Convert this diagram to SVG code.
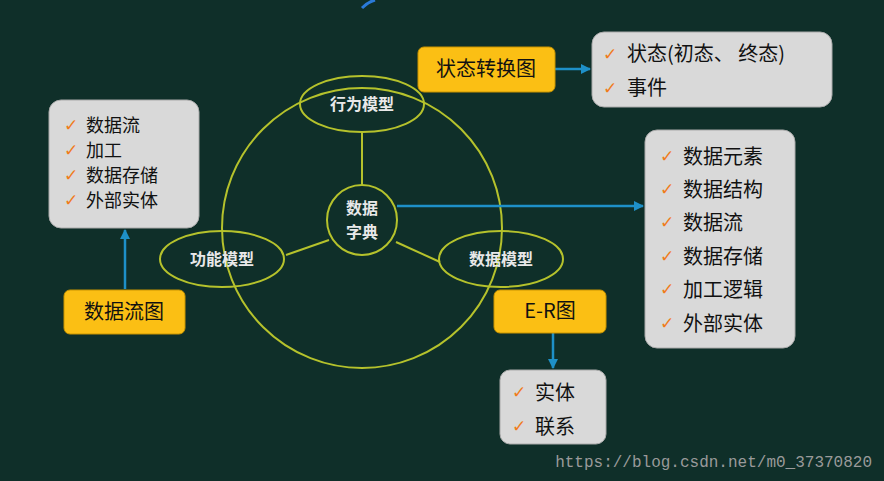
<svg xmlns="http://www.w3.org/2000/svg" width="884" height="481" viewBox="0 0 884 481">
<defs>
<style>
.gray{fill:#d9d9d9;stroke:#aaa;stroke-width:1}
.yel{fill:#fbbf14;stroke:#c99400;stroke-width:1}
.t{font-family:"Noto Sans CJK SC","Liberation Sans",sans-serif;font-size:20px;fill:#111}
.s{font-size:18px}
.ck{font-family:"DejaVu Sans",sans-serif;font-size:17px;font-weight:bold;fill:#f07c1c}
.g{fill:none;stroke:#b5c22c;stroke-width:2}
.w{font-family:"Noto Sans CJK SC",sans-serif;font-size:16px;font-weight:bold;fill:#e8e8e8}
.b{stroke:#1e90c8;stroke-width:2.5;fill:none}
</style>
<marker id="a" viewBox="0 0 10 10" refX="9" refY="5" markerWidth="4" markerHeight="4" orient="auto"><path d="M0,0L10,5L0,10z" fill="#1e90c8"/></marker>
</defs>
<rect width="884" height="481" fill="#0f2f29"/>
<path d="M362,8 Q368,2 375,0" stroke="#2a7ad8" stroke-width="3" fill="none"/>
<g id="connectors">
<circle cx="362" cy="228" r="140" class="g"/>
<line x1="362" y1="132" x2="362" y2="185" class="g"/>
<line x1="286" y1="255" x2="329" y2="240" class="g"/>
<line x1="396" y1="242" x2="440" y2="262" class="g"/>
<line x1="397" y1="206" x2="643" y2="206" class="b" marker-end="url(#a)"/>
<line x1="555" y1="69" x2="590" y2="69" class="b" marker-end="url(#a)"/>
<line x1="553" y1="333" x2="553" y2="368" class="b" marker-end="url(#a)"/>
<line x1="125" y1="289" x2="125" y2="230" class="b" marker-end="url(#a)"/>
</g>
<g id="behavior"><ellipse cx="362" cy="104" rx="62" ry="28" fill="#0f2f29" class="g"/><text x="362" y="110" text-anchor="middle" class="w">行为模型</text></g>
<g id="func"><ellipse cx="222" cy="259" rx="62" ry="28" fill="#0f2f29" class="g"/><text x="222" y="265" text-anchor="middle" class="w">功能模型</text></g>
<g id="datam"><ellipse cx="501" cy="259" rx="62" ry="28" fill="#0f2f29" class="g"/><text x="501" y="265" text-anchor="middle" class="w">数据模型</text></g>
<g id="dict"><circle cx="362" cy="220" r="35" fill="#0f2f29" class="g"/><text x="362" y="214" text-anchor="middle" class="w">数据</text><text x="362" y="238" text-anchor="middle" class="w">字典</text></g>
<g id="std"><rect x="418" y="47" width="137" height="45" rx="6" class="yel"/><text x="486" y="76" text-anchor="middle" class="t">状态转换图</text></g>
<g id="stlist"><rect x="592" y="32" width="240" height="75" rx="12" class="gray"/>
<text x="603" y="60" class="ck">✓</text><text x="627" y="61" class="t">状态(初态、 终态)</text>
<text x="603" y="94" class="ck">✓</text><text x="627" y="95" class="t">事件</text></g>
<g id="ddlist"><rect x="645" y="130" width="150" height="218" rx="12" class="gray"/>
<text x="660" y="162" class="ck">✓</text><text x="683" y="164" class="t">数据元素</text>
<text x="660" y="195" class="ck">✓</text><text x="683" y="197" class="t">数据结构</text>
<text x="660" y="228" class="ck">✓</text><text x="683" y="230" class="t">数据流</text>
<text x="660" y="262" class="ck">✓</text><text x="683" y="264" class="t">数据存储</text>
<text x="660" y="295" class="ck">✓</text><text x="683" y="297" class="t">加工逻辑</text>
<text x="660" y="329" class="ck">✓</text><text x="683" y="331" class="t">外部实体</text></g>
<g id="er"><rect x="494" y="290" width="112" height="43" rx="6" class="yel"/><text x="550" y="318" text-anchor="middle" class="t">E-R图</text></g>
<g id="erlist"><rect x="500" y="370" width="106" height="74" rx="10" class="gray"/>
<text x="512" y="398" class="ck">✓</text><text x="535" y="400" class="t">实体</text>
<text x="512" y="432" class="ck">✓</text><text x="535" y="434" class="t">联系</text></g>
<g id="dfdlist"><rect x="49" y="100" width="150" height="128" rx="12" class="gray"/>
<text x="64" y="131" class="ck">✓</text><text x="86" y="132" class="t s">数据流</text>
<text x="64" y="156" class="ck">✓</text><text x="86" y="157" class="t s">加工</text>
<text x="64" y="181" class="ck">✓</text><text x="86" y="182" class="t s">数据存储</text>
<text x="64" y="206" class="ck">✓</text><text x="86" y="207" class="t s">外部实体</text></g>
<g id="dfd"><rect x="64" y="290" width="121" height="44" rx="6" class="yel"/><text x="124" y="319" text-anchor="middle" class="t">数据流图</text></g>
<text x="872" y="467" text-anchor="end" font-family="Liberation Mono,monospace" font-size="16" fill="#9a9a9a">https://blog.csdn.net/m0_37370820</text>
</svg>
